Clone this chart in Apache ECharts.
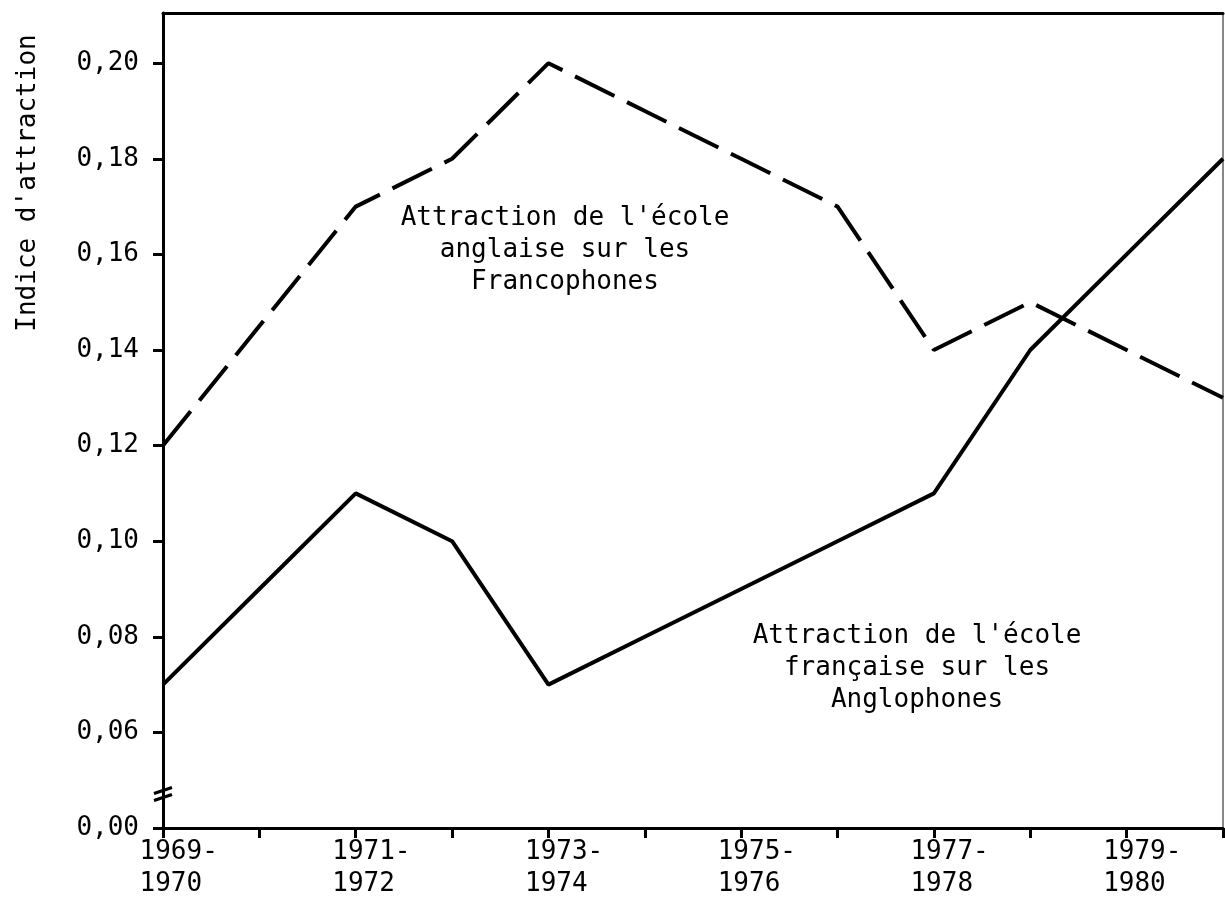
<!DOCTYPE html>
<html>
<head>
<meta charset="utf-8">
<script src="https://cdn.jsdelivr.net/npm/echarts@6/dist/echarts.min.js"></script>
<style>
html,body{margin:0;padding:0;background:#fff;}
#chart{width:1225px;height:906px;}
</style>
</head>
<body>
<div id="chart"></div>
<script>
// Categories (school years)
var categories = ['1969-1970','1970-1971','1971-1972','1972-1973','1973-1974','1974-1975',
                  '1975-1976','1976-1977','1977-1978','1978-1979','1979-1980','1980-1981'];
// Attraction de l'école anglaise sur les Francophones (dashed)
var anglaise = [0.12, 0.145, 0.17, 0.18, 0.20, 0.19, 0.18, 0.17, 0.14, 0.15, 0.14, 0.13];
// Attraction de l'école française sur les Anglophones (solid)
var francaise = [0.07, 0.09, 0.11, 0.10, 0.07, 0.08, 0.09, 0.10, 0.11, 0.14, 0.16, 0.18];
// Y tick positions (axis is broken: the lowest tick stands for 0,00)
var yTickValues = [0.04, 0.06, 0.08, 0.10, 0.12, 0.14, 0.16, 0.18, 0.20];
var yTickLabels = ['0,00', '0,06', '0,08', '0,10', '0,12', '0,14', '0,16', '0,18', '0,20'];
var yName = "Indice d'attraction";
var noteAnglaise = "Attraction de l'école\nanglaise sur les\nFrancophones";
var noteFrancaise = "Attraction de l'école\nfrançaise sur les\nAnglophones";

var FONT = '"DejaVu Sans Mono", monospace';
var chart = echarts.init(document.getElementById('chart'));

function yLabel(v) {
  for (var i = 0; i < yTickValues.length; i++) {
    if (Math.abs(yTickValues[i] - v) < 1e-6) return yTickLabels[i];
  }
  return '';
}
function xLabel(v) {
  var p = v.split('-');
  return '  ' + p[0] + '-\n  ' + p[1] + ' ';
}

chart.setOption({
  animation: false,
  backgroundColor: '#fff',
  grid: {left: 163, right: 2, top: 13, bottom: 78},
  xAxis: [{
    type: 'category',
    data: categories,
    boundaryGap: false,
    axisLine: {lineStyle: {color: '#000', width: 3}},
    axisTick: {show: true, interval: 0, length: 10, lineStyle: {color: '#000', width: 3}},
    axisLabel: {interval: 1, formatter: xLabel, color: '#000', fontFamily: FONT, fontSize: 26,
                lineHeight: 32, margin: 8},
    splitLine: {show: false}
  }, {
    type: 'category',
    data: categories,
    boundaryGap: false,
    position: 'top',
    axisLine: {lineStyle: {color: '#000', width: 3}},
    axisTick: {show: false},
    axisLabel: {show: false},
    splitLine: {show: false}
  }],
  yAxis: [{
    type: 'value',
    min: 0.04,
    max: 0.2105,
    axisLine: {show: true, lineStyle: {color: '#000', width: 3}},
    axisTick: {show: true, length: 10, customValues: yTickValues, lineStyle: {color: '#000', width: 3}},
    axisLabel: {customValues: yTickValues, formatter: yLabel, color: '#000', fontFamily: FONT,
                fontSize: 26, margin: 24},
    splitLine: {show: false}
  }, {
    type: 'value',
    min: 0.04,
    max: 0.2105,
    position: 'right',
    axisLine: {show: true, lineStyle: {color: '#888', width: 2}},
    axisTick: {show: false},
    axisLabel: {show: false},
    splitLine: {show: false}
  }],
  series: [{
    name: 'anglaise',
    type: 'line',
    data: anglaise,
    symbol: 'none',
    lineStyle: {color: '#000', width: 4, type: [44, 14]}
  }, {
    name: 'francaise',
    type: 'line',
    data: francaise,
    symbol: 'none',
    lineStyle: {color: '#000', width: 4}
  }]
});

// Decorations: axis name, annotations and axis break mark
var p0 = chart.convertToPixel({xAxisIndex: 0, yAxisIndex: 0}, [0, 0.0468]);
var ax = p0[0], by = p0[1];
chart.setOption({
  graphic: [
    {type: 'text', x: 28, y: 183, rotation: Math.PI / 2,
     style: {text: yName, font: '26px ' + FONT, fill: '#000', align: 'center', verticalAlign: 'middle'}},
    {type: 'text', x: 565, y: 250,
     style: {text: noteAnglaise, font: '26px ' + FONT, fill: '#000', align: 'center',
             verticalAlign: 'middle', lineHeight: 32}},
    {type: 'text', x: 917, y: 668,
     style: {text: noteFrancaise, font: '26px ' + FONT, fill: '#000', align: 'center',
             verticalAlign: 'middle', lineHeight: 32}},
    {type: 'line', shape: {x1: ax - 9, y1: by - 2, x2: ax + 9, y2: by - 8},
     style: {stroke: '#000', lineWidth: 3}},
    {type: 'line', shape: {x1: ax - 9, y1: by + 5, x2: ax + 9, y2: by - 1},
     style: {stroke: '#000', lineWidth: 3}}
  ]
});
</script>
</body>
</html>
